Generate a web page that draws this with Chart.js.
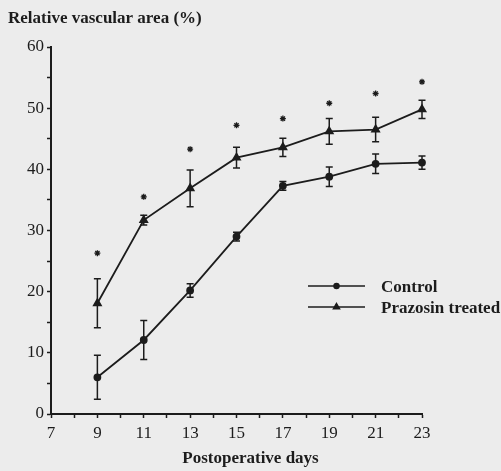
<!DOCTYPE html>
<html>
<head>
<meta charset="utf-8">
<script src="https://cdn.jsdelivr.net/npm/chart.js@4.4.0/dist/chart.umd.min.js"></script>
<style>
  html, body { margin: 0; padding: 0; background: #ececec; }
  #wrap { width: 501px; height: 471px; }
</style>
</head>
<body>
<div id="wrap"><canvas id="chart"></canvas></div>
<script>
// values
const days = [9, 11, 13, 15, 17, 19, 21, 23];
const controlMean = [6.0, 12.1, 20.2, 29.0, 37.3, 38.8, 40.9, 41.1];
const controlErr = [3.6, 3.2, 1.1, 0.7, 0.7, 1.6, 1.6, 1.1];
const prazosinMean = [18.1, 31.7, 36.9, 41.9, 43.6, 46.2, 46.5, 49.8];
const prazosinErr = [4.0, 0.8, 3.0, 1.7, 1.5, 2.1, 2.0, 1.5];
const starY = [26.3, 35.5, 43.3, 47.2, 48.3, 50.8, 52.4, 54.3];
const xLabels = [7, 9, 11, 13, 15, 17, 19, 21, 23];
const yLabels = [0, 10, 20, 30, 40, 50, 60];

const ink = '#1c1c1c';
const serif = "'Liberation Serif', 'DejaVu Serif', serif";

function pts(ys) {
  return days.map((d, i) => ({ x: d, y: ys[i] }));
}

// vertical error bars with caps
const errorBars = {
  id: 'errorBars',
  afterDatasetsDraw(chart) {
    const { ctx, scales: { x, y } } = chart;
    ctx.save();
    ctx.strokeStyle = ink;
    ctx.lineWidth = 1.5;
    chart.data.datasets.forEach(ds => {
      if (!ds.errors) return;
      ds.data.forEach((p, j) => {
        const px = x.getPixelForValue(p.x);
        const top = y.getPixelForValue(p.y + ds.errors[j]);
        const bot = y.getPixelForValue(p.y - ds.errors[j]);
        ctx.beginPath();
        ctx.moveTo(px, top); ctx.lineTo(px, bot);
        ctx.moveTo(px - 3.5, top); ctx.lineTo(px + 3.5, top);
        ctx.moveTo(px - 3.5, bot); ctx.lineTo(px + 3.5, bot);
        ctx.stroke();
      });
    });
    ctx.restore();
  }
};

// legend inside the plot + x axis title
const extras = {
  id: 'extras',
  afterDraw(chart) {
    const { ctx, chartArea: a } = chart;
    ctx.save();
    const rows = [
      { ds: chart.data.datasets[0], y: a.top + 239 },
      { ds: chart.data.datasets[1], y: a.top + 260 }
    ];
    rows.forEach(r => {
      const x0 = a.right - 114, x1 = a.right - 57;
      ctx.strokeStyle = ink;
      ctx.lineWidth = 1.5;
      ctx.beginPath();
      ctx.moveTo(x0, r.y); ctx.lineTo(x1, r.y);
      ctx.stroke();
      ctx.fillStyle = ink;
      Chart.helpers.drawPoint(ctx, {
        pointStyle: r.ds.pointStyle,
        radius: r.ds.pointRadius - 0.5,
        rotation: 0,
        borderWidth: 1
      }, (x0 + x1) / 2, r.y);
      ctx.fill();
      ctx.font = 'bold 17px ' + serif;
      ctx.textAlign = 'left';
      ctx.textBaseline = 'middle';
      ctx.fillText(r.ds.label, a.right - 41, r.y + 2);
    });
    ctx.font = 'bold 17px ' + serif;
    ctx.textAlign = 'center';
    ctx.textBaseline = 'middle';
    ctx.fillStyle = ink;
    ctx.fillText('Postoperative days', chart.width / 2, 459);
    ctx.restore();
  }
};

new Chart(document.getElementById('chart'), {
  type: 'line',
  data: {
    datasets: [
      {
        label: 'Control',
        data: pts(controlMean),
        errors: controlErr,
        clip: false,
        borderColor: ink,
        backgroundColor: ink,
        borderWidth: 1.8,
        pointStyle: 'circle',
        pointRadius: 3,
        pointBackgroundColor: ink,
        pointBorderColor: ink,
        tension: 0
      },
      {
        label: 'Prazosin treated',
        data: pts(prazosinMean),
        errors: prazosinErr,
        clip: false,
        borderColor: ink,
        backgroundColor: ink,
        borderWidth: 1.8,
        pointStyle: 'triangle',
        pointRadius: 4,
        pointBackgroundColor: ink,
        pointBorderColor: ink,
        tension: 0
      },
      {
        label: 'significance',
        data: pts(starY),
        clip: false,
        showLine: false,
        pointStyle: 'star',
        pointRadius: 3,
        pointBorderWidth: 1.3,
        pointBorderColor: ink,
        pointBackgroundColor: ink
      }
    ]
  },
  options: {
    responsive: true,
    maintainAspectRatio: false,
    animation: false,
    layout: { padding: { left: 8, right: 79, top: 0, bottom: 0 } },
    plugins: {
      legend: { display: false },
      tooltip: { enabled: false },
      title: {
        display: true,
        text: 'Relative vascular area (%)',
        align: 'start',
        color: ink,
        font: { family: serif, size: 17, weight: 'bold' },
        padding: { top: 8, bottom: 18.6 }
      }
    },
    scales: {
      x: {
        type: 'linear',
        min: 7,
        max: 23,
        afterFit(s) { s.height = 57; },
        afterBuildTicks(s) {
          s.ticks = [];
          for (let v = 7; v <= 23; v++) s.ticks.push({ value: v });
        },
        ticks: {
          autoSkip: false,
          maxRotation: 0,
          padding: 5,
          color: ink,
          font: { family: serif, size: 17 },
          callback: v => xLabels.includes(v) ? String(v) : ''
        },
        grid: { drawOnChartArea: false, drawTicks: true, tickLength: 4, tickColor: ink, tickWidth: 1.5 },
        border: { color: ink, width: 2 }
      },
      y: {
        min: 0,
        max: 60,
        afterFit(s) { s.width = 43; },
        ticks: {
          stepSize: 5,
          padding: 3,
          color: ink,
          font: { family: serif, size: 17 },
          callback: v => yLabels.includes(v) ? String(v) : ''
        },
        grid: { drawOnChartArea: false, drawTicks: true, tickLength: 4, tickColor: ink, tickWidth: 1.5 },
        border: { color: ink, width: 2 }
      }
    }
  },
  plugins: [errorBars, extras]
});
</script>
</body>
</html>
